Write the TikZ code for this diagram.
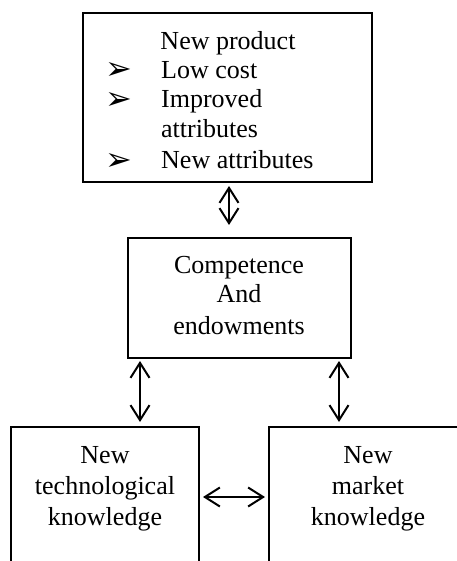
\documentclass[tikz,border=0pt]{standalone}
\usepackage{fontspec}
\setmainfont{Liberation Serif}
\newfontfamily\symfont{DejaVu Sans}
\usetikzlibrary{arrows.meta}
\tikzset{
  box/.style={draw, line width=2bp, inner sep=0pt},
  txt/.style={anchor=base, inner sep=0pt, font=\fontsize{26bp}{30bp}\selectfont},
  ltxt/.style={anchor=base west, inner sep=0pt, font=\fontsize{26bp}{30bp}\selectfont},
  bul/.style={anchor=base west, inner sep=0pt, font=\symfont\fontsize{32bp}{36bp}\selectfont},
  dbl/.style={line width=2bp, {Straight Barb[length=15bp,width=19bp,line width=2bp]}-{Straight Barb[length=15bp,width=19bp,line width=2bp]}}
}
\begin{document}
\begin{tikzpicture}[x=1bp,y=-1bp]
\useasboundingbox (0,0) rectangle (457,561);
\clip (0,0) rectangle (457,561);
% boxes
\node[box, minimum width=288.5bp, minimum height=168.5bp] (prod) at (227.75,97.25) {};
\node[box, minimum width=223bp, minimum height=120bp] (comp) at (239.5,298) {};
\node[box, minimum width=188bp, minimum height=200bp] (tech) at (105,527) {};
\node[box, minimum width=200bp, minimum height=200bp] (mark) at (369,527) {};
% top box text
\node[txt] (t0) at (228,50) {New product};
\node[bul] (b1) at (105,80) {➢};
\node[ltxt] (t1) at (161,79) {Low cost};
\node[bul] (b2) at (105,110) {➢};
\node[ltxt] (t2) at (161,108) {Improved};
\node[ltxt] (t3) at (161,138) {attributes};
\node[bul] (b3) at (105,171) {➢};
\node[ltxt] (t4) at (161,169) {New attributes};
% middle text
\node[txt] (c1) at (239,273) {Competence};
\node[txt] (c2) at (239,302) {And};
\node[txt] (c3) at (239,334) {endowments};
% bottom left
\node[txt] (l1) at (105,463) {New};
\node[txt] (l2) at (105,494) {technological};
\node[txt] (l3) at (105,525) {knowledge};
% bottom right
\node[txt] (r1) at (368,463) {New};
\node[txt] (r2) at (368,494) {market};
\node[txt] (r3) at (368,525) {knowledge};
% arrows
\coordinate (ax) at (229,0);
\coordinate (lx) at (140,0);
\coordinate (rx) at (339,0);
\coordinate (hy) at (0,497);
\draw[dbl, shorten <=3.5bp, shorten >=12bp] (prod.south -| ax) -- (comp.north -| ax);
\draw[dbl, shorten <=2bp, shorten >=4bp] (comp.south -| lx) -- (tech.north -| lx);
\draw[dbl, shorten <=2bp, shorten >=4bp] (comp.south -| rx) -- (mark.north -| rx);
\draw[dbl, shorten <=3bp, shorten >=3bp] (tech.east |- hy) -- (mark.west |- hy);
\end{tikzpicture}
\end{document}
